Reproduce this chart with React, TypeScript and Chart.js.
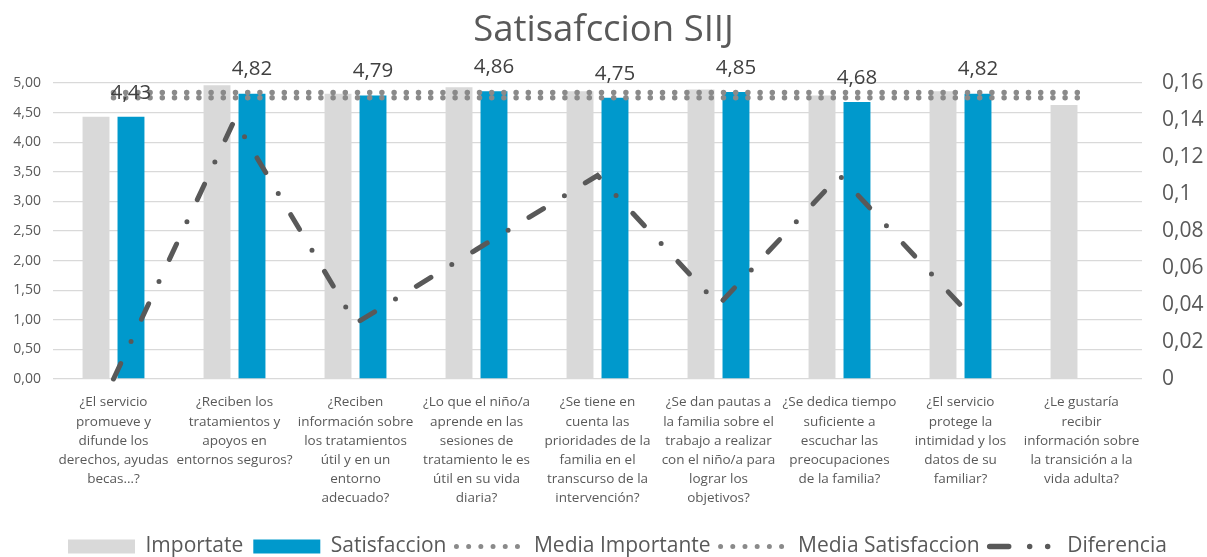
import React, { useEffect, useRef } from "react";
import { Chart, registerables } from "chart.js";

Chart.register(...registerables);

const categories: string[][] = [
  ["¿El servicio", "promueve y", "difunde los", "derechos, ayudas", "becas…?"],
  ["¿Reciben los", "tratamientos y", "apoyos en", "entornos seguros?"],
  ["¿Reciben", "información sobre", "los tratamientos", "útil y en un", "entorno", "adecuado?"],
  ["¿Lo que el niño/a", "aprende en las", "sesiones de", "tratamiento le es", "útil en su vida", "diaria?"],
  ["¿Se tiene en", "cuenta las", "prioridades de la", "familia en el", "transcurso de la", "intervención?"],
  ["¿Se dan pautas a", "la familia sobre el", "trabajo a realizar", "con el niño/a para", "lograr los", "objetivos?"],
  ["¿Se dedica tiempo", "suficiente a", "escuchar las", "preocupaciones", "de la familia?"],
  ["¿El servicio", "protege la", "intimidad y los", "datos de su", "familiar?"],
  ["¿Le gustaría", "recibir", "información sobre", "la transición a la", "vida adulta?"],
];

const importate = [4.43, 4.96, 4.82, 4.93, 4.86, 4.89, 4.79, 4.86, 4.63];
const satisfaccion = [4.43, 4.82, 4.79, 4.86, 4.75, 4.85, 4.68, 4.82, null];
const mediaImportante = [4.84, 4.84, 4.84, 4.84, 4.84, 4.84, 4.84, 4.84, 4.84];
const mediaSatisfaccion = [4.75, 4.75, 4.75, 4.75, 4.75, 4.75, 4.75, 4.75, 4.75];
const diferencia = [0, 0.14, 0.03, 0.07, 0.11, 0.04, 0.11, 0.04, null];

const seriesNames = ["Importate", "Satisfaccion", "Media Importante", "Media Satisfaccion", "Diferencia"];
const titleText = "Satisafccion SIIJ";

const FONT = "'Open Sans'";
const TEXT = "#595959";
const GREY = "#d9d9d9";
const BLUE = "#0099cc";
const DOT = "#8a8a8a";
const DARK = "#595959";

const fmt2 = (v: number) => v.toFixed(2).replace(".", ",");
const fmtGeneral = (v: number) => String(Math.round(v * 100) / 100).replace(".", ",");

const valueLabels = {
  id: "valueLabels",
  afterDatasetsDraw(chart: any) {
    const meta = chart.getDatasetMeta(1);
    const ctx = chart.ctx;
    ctx.save();
    ctx.font = `20.5px ${FONT}`;
    ctx.fillStyle = "#404040";
    ctx.textAlign = "center";
    ctx.textBaseline = "middle";
    meta.data.forEach((el: any, i: number) => {
      const v = satisfaccion[i];
      if (v == null) return;
      ctx.fillText(fmt2(v), el.x, el.y - 24);
    });
    ctx.restore();
  },
};

const legendShift = {
  id: "legendShift",
  afterLayout(chart: any) {
    if (chart.legend) {
      chart.legend.left = 58;
    }
  },
};

export default function App() {
  const ref = useRef<HTMLCanvasElement | null>(null);

  useEffect(() => {
    if (!ref.current) return;
    const chart = new Chart(ref.current, {
      type: "bar",
      data: {
        labels: categories,
        datasets: [
          {
            type: "bar",
            label: seriesNames[0],
            data: importate,
            backgroundColor: GREY,
            yAxisID: "y",
            order: 2,
            categoryPercentage: 0.578,
            barPercentage: 0.77,
          },
          {
            type: "bar",
            label: seriesNames[1],
            data: satisfaccion,
            backgroundColor: BLUE,
            yAxisID: "y",
            order: 2,
            categoryPercentage: 0.578,
            barPercentage: 0.77,
          },
          {
            type: "line",
            label: seriesNames[2],
            data: mediaImportante,
            borderColor: DOT,
            borderWidth: 5.5,
            borderDash: [0, 12.2],
            borderCapStyle: "round",
            pointRadius: 0,
            fill: false,
            tension: 0,
            yAxisID: "y",
            order: 1,
          },
          {
            type: "line",
            label: seriesNames[3],
            data: mediaSatisfaccion,
            borderColor: DOT,
            borderWidth: 5.5,
            borderDash: [0, 12.2],
            borderCapStyle: "round",
            pointRadius: 0,
            fill: false,
            tension: 0,
            yAxisID: "y",
            order: 1,
          },
          {
            type: "line",
            label: seriesNames[4],
            data: diferencia,
            borderColor: DARK,
            borderWidth: 5,
            borderDash: [17, 24.5, 0, 24.5],
            borderCapStyle: "round",
            pointRadius: 0,
            fill: false,
            tension: 0,
            yAxisID: "y1",
            order: 0,
            clip: false,
          },
        ] as any,
      },
      options: {
        responsive: false,
        animation: false,
        events: [],
        layout: { padding: 0 },
        scales: {
          x: {
            grid: { display: false },
            border: { display: false },
            ticks: {
              color: TEXT,
              font: { family: FONT, size: 13.5, lineHeight: 1.42 },
              padding: 6,
              maxRotation: 0,
              minRotation: 0,
              autoSkip: false,
            },
            afterFit: (s: any) => {
              s.height = 147;
            },
          },
          y: {
            position: "left",
            min: 0,
            max: 5,
            grid: { color: GREY, lineWidth: 1.3, drawTicks: false },
            border: { display: false },
            ticks: {
              stepSize: 0.5,
              color: TEXT,
              font: { family: FONT, size: 14 },
              padding: 12,
              callback: (v: any) => fmt2(Number(v)),
            },
            afterFit: (s: any) => {
              s.width = 53;
            },
          },
          y1: {
            position: "right",
            min: 0,
            max: 0.16,
            grid: { display: false, drawTicks: false },
            border: { display: false },
            ticks: {
              stepSize: 0.02,
              color: TEXT,
              font: { family: FONT, size: 21 },
              padding: 20,
              callback: (v: any) => fmtGeneral(Number(v)),
            },
            afterFit: (s: any) => {
              s.width = 65;
            },
          },
        },
        plugins: {
          tooltip: { enabled: false },
          title: {
            display: true,
            text: titleText,
            color: TEXT,
            font: { family: FONT, size: 36.5, weight: "normal", lineHeight: 1.2 },
            padding: { top: 9, bottom: 30.2 },
          },
          legend: {
            position: "bottom",
            align: "start",
            labels: {
              usePointStyle: true,
              pointStyleWidth: 67,
              boxHeight: 14,
              padding: 10,
              color: TEXT,
              font: { family: FONT, size: 21 },
              generateLabels: () => [
                { text: seriesNames[0], fillStyle: GREY, strokeStyle: GREY, lineWidth: 0, pointStyle: "rect", datasetIndex: 0, fontColor: TEXT },
                { text: seriesNames[1], fillStyle: BLUE, strokeStyle: BLUE, lineWidth: 0, pointStyle: "rect", datasetIndex: 1, fontColor: TEXT },
                { text: seriesNames[2], fillStyle: "rgba(0,0,0,0)", strokeStyle: DOT, lineWidth: 5, lineDash: [0, 12.2], lineCap: "round", pointStyle: "line", datasetIndex: 2, fontColor: TEXT },
                { text: seriesNames[3], fillStyle: "rgba(0,0,0,0)", strokeStyle: DOT, lineWidth: 5, lineDash: [0, 12.2], lineCap: "round", pointStyle: "line", datasetIndex: 3, fontColor: TEXT },
                { text: seriesNames[4], fillStyle: "rgba(0,0,0,0)", strokeStyle: DARK, lineWidth: 5.5, lineDash: [19, 21, 0, 18, 0, 200], lineCap: "round", pointStyle: "line", datasetIndex: 4, fontColor: TEXT },
              ],
            },
          },
        },
      } as any,
      plugins: [valueLabels, legendShift],
    });
    return () => chart.destroy();
  }, []);

  return (
    <div
      style={{
        position: "fixed",
        left: 0,
        top: 0,
        width: 1207,
        height: 557,
        overflow: "hidden",
        background: "#ffffff",
      }}
    >
      <canvas ref={ref} width={1207} height={567} style={{ display: "block" }} />
    </div>
  );
}
